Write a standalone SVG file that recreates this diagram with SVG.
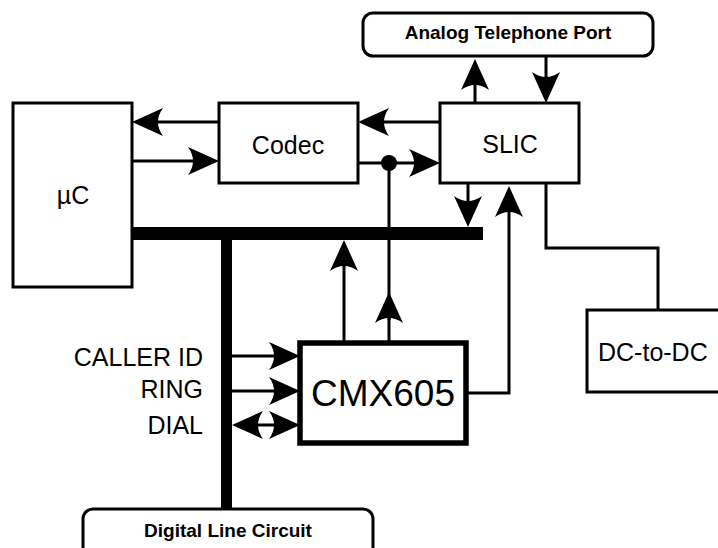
<svg xmlns="http://www.w3.org/2000/svg" width="718" height="548" viewBox="0 0 718 548">
<style>
.box{fill:#fff;stroke:#000;stroke-width:3}
.thick{fill:#fff;stroke:#000;stroke-width:5.5}
.ln{fill:none;stroke:#000;stroke-width:3}
.t{font-family:"Liberation Sans",Arial,sans-serif;font-size:25px;fill:#000}
.b{font-family:"Liberation Sans",Arial,sans-serif;font-size:19px;font-weight:bold;fill:#000}
</style>
<defs>
<marker id="ah" viewBox="0 0 31 28" refX="21" refY="14" markerWidth="31" markerHeight="28" markerUnits="userSpaceOnUse" orient="auto-start-reverse">
<path d="M0,0 L31,14 L0,28 Q5,21 5,14 Q5,7 0,0 Z" fill="#000"/>
</marker>
</defs>
<rect width="718" height="548" fill="#fff"/>
<g id="connectors">
<rect x="132" y="227" width="351" height="13" fill="#000"/>
<rect x="221" y="227" width="11" height="284" fill="#000"/>
<path class="ln" d="M219,122 H142" marker-end="url(#ah)"/>
<path class="ln" d="M132,161 H209" marker-end="url(#ah)"/>
<path class="ln" d="M440,122 H368" marker-end="url(#ah)"/>
<path class="ln" d="M358,163 H430" marker-end="url(#ah)"/>
<circle cx="389" cy="163" r="8" fill="#000"/>
<path class="ln" d="M389,163 V343"/>
<path class="ln" d="M389,320 V302" marker-end="url(#ah)"/>
<path class="ln" d="M475,103 V69" marker-end="url(#ah)"/>
<path class="ln" d="M546,56 V93" marker-end="url(#ah)"/>
<path class="ln" d="M468,183 V217" marker-end="url(#ah)"/>
<path class="ln" d="M466,393 H509 V196" marker-end="url(#ah)"/>
<path class="ln" d="M546,183 V248 H658 V310"/>
<path class="ln" d="M344,343 V250" marker-end="url(#ah)"/>
<path class="ln" d="M232,356 H290" marker-end="url(#ah)"/>
<path class="ln" d="M232,391 H290" marker-end="url(#ah)"/>
<path class="ln" d="M242,425 H290" marker-start="url(#ah)" marker-end="url(#ah)"/>
</g>
<g id="uc">
<rect class="box" x="13" y="103" width="119" height="184"/>
<text class="t" x="73" y="204" text-anchor="middle">µC</text>
</g>
<g id="codec">
<rect class="box" x="219" y="103" width="139" height="80"/>
<text class="t" x="288" y="154" text-anchor="middle">Codec</text>
</g>
<g id="slic">
<rect class="box" x="440" y="103" width="139" height="80"/>
<text class="t" x="510" y="153" text-anchor="middle">SLIC</text>
</g>
<g id="atp">
<rect class="box" x="363" y="13" width="290" height="43" rx="10"/>
<text class="b" x="508" y="39" text-anchor="middle">Analog Telephone Port</text>
</g>
<g id="cmx605">
<rect class="thick" x="300" y="343" width="166" height="100"/>
<text class="t" x="383" y="406" text-anchor="middle" style="font-size:37px">CMX605</text>
</g>
<g id="dcdc">
<rect class="box" x="587" y="310" width="150" height="82"/>
<text class="t" x="598" y="361">DC-to-DC</text>
</g>
<g id="dlc">
<rect class="box" x="83" y="509" width="290" height="60" rx="10"/>
<text class="b" x="228" y="537" text-anchor="middle">Digital Line Circuit</text>
</g>
<g id="labels">
<text class="t" x="203" y="366" text-anchor="end">CALLER ID</text>
<text class="t" x="203" y="398" text-anchor="end">RING</text>
<text class="t" x="203" y="434" text-anchor="end">DIAL</text>
</g>
</svg>
